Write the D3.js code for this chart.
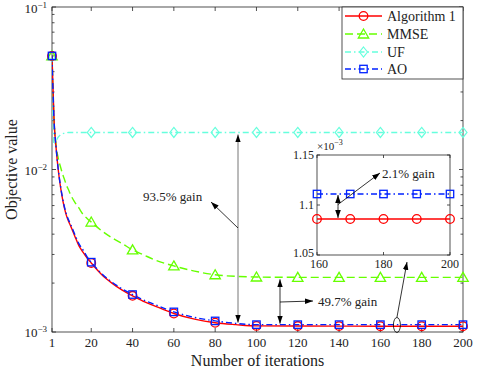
<!DOCTYPE html>
<html><head><meta charset="utf-8">
<script src="https://cdn.jsdelivr.net/npm/d3@7"></script>
<style>body{margin:0;background:#fff}svg{display:block}text{font-family:"Liberation Serif","Times New Roman",serif;fill:#222}</style>
</head><body><svg id="c" width="477" height="369"></svg>
<script>
// ---------- data ----------
const iters     = [1,2,3,4,5,6,7,8,9,10,12,14,16,18,20,25,30,35,40,45,50,60,70,80,90,100,120,140,160,180,200];
const alg1      = [0.05,0.020,0.0135,0.0100,0.0080,0.0067,0.0058,0.0052,0.0048,0.0045,0.0039,0.0034,0.0031,0.00285,0.00266,0.00226,0.00200,0.00181,0.00167,0.00155,0.00146,0.00130,0.00120,0.00114,0.00111,0.00109,0.001088,0.001087,0.001086,0.001086,0.001086];
const ao        = [0.05,0.020,0.0136,0.0101,0.0081,0.0068,0.0059,0.0053,0.0049,0.0046,0.0040,0.0035,0.0032,0.00290,0.00269,0.00229,0.00203,0.00184,0.00170,0.00158,0.00149,0.00133,0.00123,0.00117,0.00113,0.00111,0.00111,0.00111,0.00111,0.00111,0.00111];
const mmse      = [0.05,0.020,0.0140,0.0118,0.0105,0.0095,0.0087,0.0080,0.0075,0.0070,0.0063,0.0058,0.0053,0.0050,0.00475,0.0042,0.0038,0.0035,0.0032,0.0030,0.0028,0.00255,0.00237,0.00225,0.00220,0.00218,0.00217,0.00217,0.00217,0.00217,0.00217];
const uf        = [0.05,0.0142,0.0150,0.0158,0.0163,0.0166,0.0167,0.0168,0.0169,0.0169,0.0169,0.0169,0.0169,0.0169,0.0169,0.0169,0.0169,0.0169,0.0169,0.0169,0.0169,0.0169,0.0169,0.0169,0.0169,0.0169,0.0169,0.0169,0.0169,0.0169,0.0169];
const markerIters = [1,20,40,60,80,100,120,140,160,180,200];
const xTicks    = [1,20,40,60,80,100,120,140,160,180,200];
const yTickExps = [-3,-2,-1];
const seriesNames = ["Algorithm 1","MMSE","UF","AO"];
// inset
const insetIters = [160,170,180,190,200];
const insetAlg1  = [1.086e-3,1.086e-3,1.086e-3,1.086e-3,1.086e-3];
const insetAO    = [1.111e-3,1.111e-3,1.111e-3,1.111e-3,1.111e-3];
const insetXTicks = [160,180,200];
const insetYTicks = [1.05e-3,1.1e-3,1.15e-3];
const insetYLabels = ["1.05","1.1","1.15"];
const annotations = ["93.5% gain","49.7% gain","2.1% gain"];

// ---------- drawing ----------
const svg = d3.select("#c");
const L=52,R=463,T=7,B=332;
const x = d3.scaleLinear().domain([1,200]).range([L,R]);
const y = d3.scaleLog().domain([1e-3,1e-1]).range([B,T]);
const axc="#262626";

const defs = svg.append("defs");
defs.append("marker").attr("id","ah").attr("viewBox","0 0 10 10").attr("refX",10).attr("refY",5)
  .attr("markerWidth",8).attr("markerHeight",8).attr("markerUnits","userSpaceOnUse").attr("orient","auto-start-reverse")
  .append("path").attr("d","M0,1.5L10,5L0,8.5Z").attr("fill","#000");
defs.append("clipPath").attr("id","clip").append("rect").attr("x",L).attr("y",T).attr("width",R-L).attr("height",B-T);

const colors = {alg1:"#ff0000", mmse:"#66ff00", uf:"#66ffdd", ao:"#0022ff"};
const dashes = {alg1:null, mmse:"8,4", uf:"6,3,1.5,3", ao:"6,3,1.5,3"};

function marker(g, type, cx, cy, col){
  if(type==="circle") g.append("circle").attr("cx",cx).attr("cy",cy).attr("r",4.3).attr("fill","none").attr("stroke",col).attr("stroke-width",1.3);
  else if(type==="square") g.append("rect").attr("x",cx-3.7).attr("y",cy-3.7).attr("width",7.4).attr("height",7.4).attr("fill","none").attr("stroke",col).attr("stroke-width",1.3);
  else if(type==="tri") g.append("path").attr("d",`M${cx},${cy-5}L${cx+5.2},${cy+4}L${cx-5.2},${cy+4}Z`).attr("fill","none").attr("stroke",col).attr("stroke-width",1.3);
  else if(type==="diamond") g.append("path").attr("d",`M${cx},${cy-5}L${cx+4},${cy}L${cx},${cy+5}L${cx-4},${cy}Z`).attr("fill","none").attr("stroke",col).attr("stroke-width",1.2);
}

// axes box with ticks
const ax = svg.append("g");
ax.append("rect").attr("x",L).attr("y",T).attr("width",R-L).attr("height",B-T).attr("fill","none").attr("stroke",axc).attr("stroke-width",0.8);
xTicks.forEach(t=>{
  ax.append("line").attr("x1",x(t)).attr("x2",x(t)).attr("y1",B).attr("y2",B-4).attr("stroke",axc).attr("stroke-width",0.8);
  ax.append("line").attr("x1",x(t)).attr("x2",x(t)).attr("y1",T).attr("y2",T+4).attr("stroke",axc).attr("stroke-width",0.8);
  ax.append("text").attr("x",x(t)).attr("y",B+15).attr("text-anchor","middle").attr("font-size",13).text(t);
});
y.ticks().forEach(v=>{
  const e=Math.log10(v), major=Math.abs(e-Math.round(e))<1e-9;
  const len=major?4:2.5;
  ax.append("line").attr("x1",L).attr("x2",L+len).attr("y1",y(v)).attr("y2",y(v)).attr("stroke",axc).attr("stroke-width",0.8);
  ax.append("line").attr("x1",R).attr("x2",R-len).attr("y1",y(v)).attr("y2",y(v)).attr("stroke",axc).attr("stroke-width",0.8);
});
yTickExps.forEach(e=>{
  const t=ax.append("text").attr("x",47).attr("y",y(Math.pow(10,e))+(e===-1?6:5)).attr("text-anchor","end").attr("font-size",13);
  t.append("tspan").text("10");
  t.append("tspan").attr("dy",-5).attr("font-size",9).text("\u2212"+(-e));
});
svg.append("text").attr("x",(L+R)/2).attr("y",366).attr("text-anchor","middle").attr("font-size",16).text("Number of iterations");
svg.append("text").attr("transform",`translate(17,${(T+B)/2}) rotate(-90)`).attr("text-anchor","middle").attr("font-size",16).text("Objective value");

// series
const line = d3.line().x(d=>x(d[0])).y(d=>y(d[1])).curve(d3.curveMonotoneX);
const plot = svg.append("g").attr("clip-path","url(#clip)");
const series = [
  {key:"uf", vals:uf, m:"diamond"},
  {key:"mmse", vals:mmse, m:"tri"},
  {key:"alg1", vals:alg1, m:"circle"},
  {key:"ao", vals:ao, m:"square"}
];
series.forEach(s=>{
  const data = iters.map((t,i)=>[t,s.vals[i]]);
  plot.append("path").attr("d",line(data)).attr("fill","none").attr("stroke",colors[s.key]).attr("stroke-width",1.4)
    .attr("stroke-dasharray",dashes[s.key]);
});
series.forEach(s=>{
  const g=svg.append("g");
  markerIters.forEach(t=>{ const i=iters.indexOf(t); marker(g,s.m,x(t),y(s.vals[i]),colors[s.key]); });
});

// annotations main
const ann = svg.append("g");
const aoEnd = y(ao[ao.length-1]), ufEnd=y(uf[uf.length-1]), mmEnd=y(mmse[mmse.length-1]);
ann.append("line").attr("x1",238).attr("x2",238).attr("y1",(ufEnd+aoEnd)/2).attr("y2",ufEnd+2).attr("stroke","#777").attr("stroke-width",1).attr("marker-end","url(#ah)");
ann.append("line").attr("x1",238).attr("x2",238).attr("y1",(ufEnd+aoEnd)/2).attr("y2",aoEnd-2).attr("stroke","#777").attr("stroke-width",1).attr("marker-end","url(#ah)");
ann.append("line").attr("x1",238).attr("y1",228).attr("x2",211).attr("y2",202).attr("stroke","#000").attr("stroke-width",0.8).attr("marker-end","url(#ah)");
ann.append("text").attr("x",143).attr("y",201).attr("font-size",13).text(annotations[0]);

ann.append("line").attr("x1",280).attr("x2",280).attr("y1",302).attr("y2",mmEnd+2).attr("stroke","#000").attr("stroke-width",0.8).attr("marker-end","url(#ah)");
ann.append("line").attr("x1",280).attr("x2",280).attr("y1",302).attr("y2",aoEnd-1).attr("stroke","#000").attr("stroke-width",0.8).attr("marker-end","url(#ah)");
ann.append("line").attr("x1",280).attr("y1",302).attr("x2",313).attr("y2",301).attr("stroke","#000").attr("stroke-width",0.8).attr("marker-end","url(#ah)");
ann.append("text").attr("x",318).attr("y",306).attr("font-size",13).text(annotations[1]);

ann.append("ellipse").attr("cx",x(168)).attr("cy",325).attr("rx",3.5).attr("ry",7.5).attr("fill","none").attr("stroke","#000").attr("stroke-width",0.8);
ann.append("line").attr("x1",x(168)).attr("y1",317.5).attr("x2",407).attr("y2",262).attr("stroke","#000").attr("stroke-width",0.8).attr("marker-end","url(#ah)");

// legend
const lg = svg.append("g");
lg.append("rect").attr("x",342).attr("y",T).attr("width",R-342).attr("height",72).attr("fill","#fff").attr("stroke",axc).attr("stroke-width",0.8);
const lgKeys=["alg1","mmse","uf","ao"], lgM=["circle","tri","diamond","square"], lgY=[16,34,52,69];
lgKeys.forEach((k,i)=>{
  lg.append("line").attr("x1",345).attr("x2",382).attr("y1",lgY[i]).attr("y2",lgY[i]).attr("stroke",colors[k]).attr("stroke-width",1.4).attr("stroke-dasharray",dashes[k]);
  marker(lg,lgM[i],363.5,lgY[i],colors[k]);
  lg.append("text").attr("x",387).attr("y",lgY[i]+5).attr("font-size",14).text(seriesNames[i]);
});

// inset
const IL=317,IR=450,IT=155,IB=255;
const ix=d3.scaleLinear().domain([160,200]).range([IL,IR]);
const iy=d3.scaleLinear().domain([1.05e-3,1.15e-3]).range([IB,IT]);
const ins=svg.append("g");
ins.append("rect").attr("x",IL).attr("y",IT).attr("width",IR-IL).attr("height",IB-IT).attr("fill","#fff").attr("stroke",axc).attr("stroke-width",0.8);
insetXTicks.forEach(t=>{
  ins.append("line").attr("x1",ix(t)).attr("x2",ix(t)).attr("y1",IB).attr("y2",IB-3).attr("stroke",axc).attr("stroke-width",0.8);
  ins.append("line").attr("x1",ix(t)).attr("x2",ix(t)).attr("y1",IT).attr("y2",IT+3).attr("stroke",axc).attr("stroke-width",0.8);
  ins.append("text").attr("x",ix(t)+(t===160?2:0)).attr("y",IB+13).attr("text-anchor","middle").attr("font-size",12).text(t);
});
insetYTicks.forEach((v,i)=>{
  ins.append("line").attr("x1",IL).attr("x2",IL+3).attr("y1",iy(v)).attr("y2",iy(v)).attr("stroke",axc).attr("stroke-width",0.8);
  ins.append("line").attr("x1",IR).attr("x2",IR-3).attr("y1",iy(v)).attr("y2",iy(v)).attr("stroke",axc).attr("stroke-width",0.8);
  ins.append("text").attr("x",IL-3).attr("y",iy(v)+(i===0?2:4)).attr("text-anchor","end").attr("font-size",12).text(insetYLabels[i]);
});
const ex=ins.append("text").attr("x",IL).attr("y",IT-5).attr("font-size",11);
ex.append("tspan").text("\u00d710");
ex.append("tspan").attr("dy",-5).attr("font-size",8).text("\u22123");
const il=d3.line().x(d=>ix(d[0])).y(d=>iy(d[1]));
ins.append("path").attr("d",il(insetIters.map((t,i)=>[t,insetAlg1[i]]))).attr("fill","none").attr("stroke",colors.alg1).attr("stroke-width",1.4);
ins.append("path").attr("d",il(insetIters.map((t,i)=>[t,insetAO[i]]))).attr("fill","none").attr("stroke",colors.ao).attr("stroke-width",1.4).attr("stroke-dasharray",dashes.ao);
insetIters.forEach((t,i)=>{ marker(ins,"circle",ix(t),iy(insetAlg1[i]),colors.alg1); marker(ins,"square",ix(t),iy(insetAO[i]),colors.ao); });
const am=(iy(insetAlg1[0])+iy(insetAO[0]))/2;
ins.append("line").attr("x1",338).attr("x2",338).attr("y1",am).attr("y2",iy(insetAO[0])+1).attr("stroke","#000").attr("stroke-width",0.8).attr("marker-end","url(#ah)");
ins.append("line").attr("x1",338).attr("x2",338).attr("y1",am).attr("y2",iy(insetAlg1[0])-1).attr("stroke","#000").attr("stroke-width",0.8).attr("marker-end","url(#ah)");
ins.append("line").attr("x1",338).attr("y1",am-2).attr("x2",380).attr("y2",173).attr("stroke","#000").attr("stroke-width",0.8).attr("marker-end","url(#ah)");
ins.append("text").attr("x",382).attr("y",178).attr("font-size",13).text(annotations[2]);
</script></body></html>
